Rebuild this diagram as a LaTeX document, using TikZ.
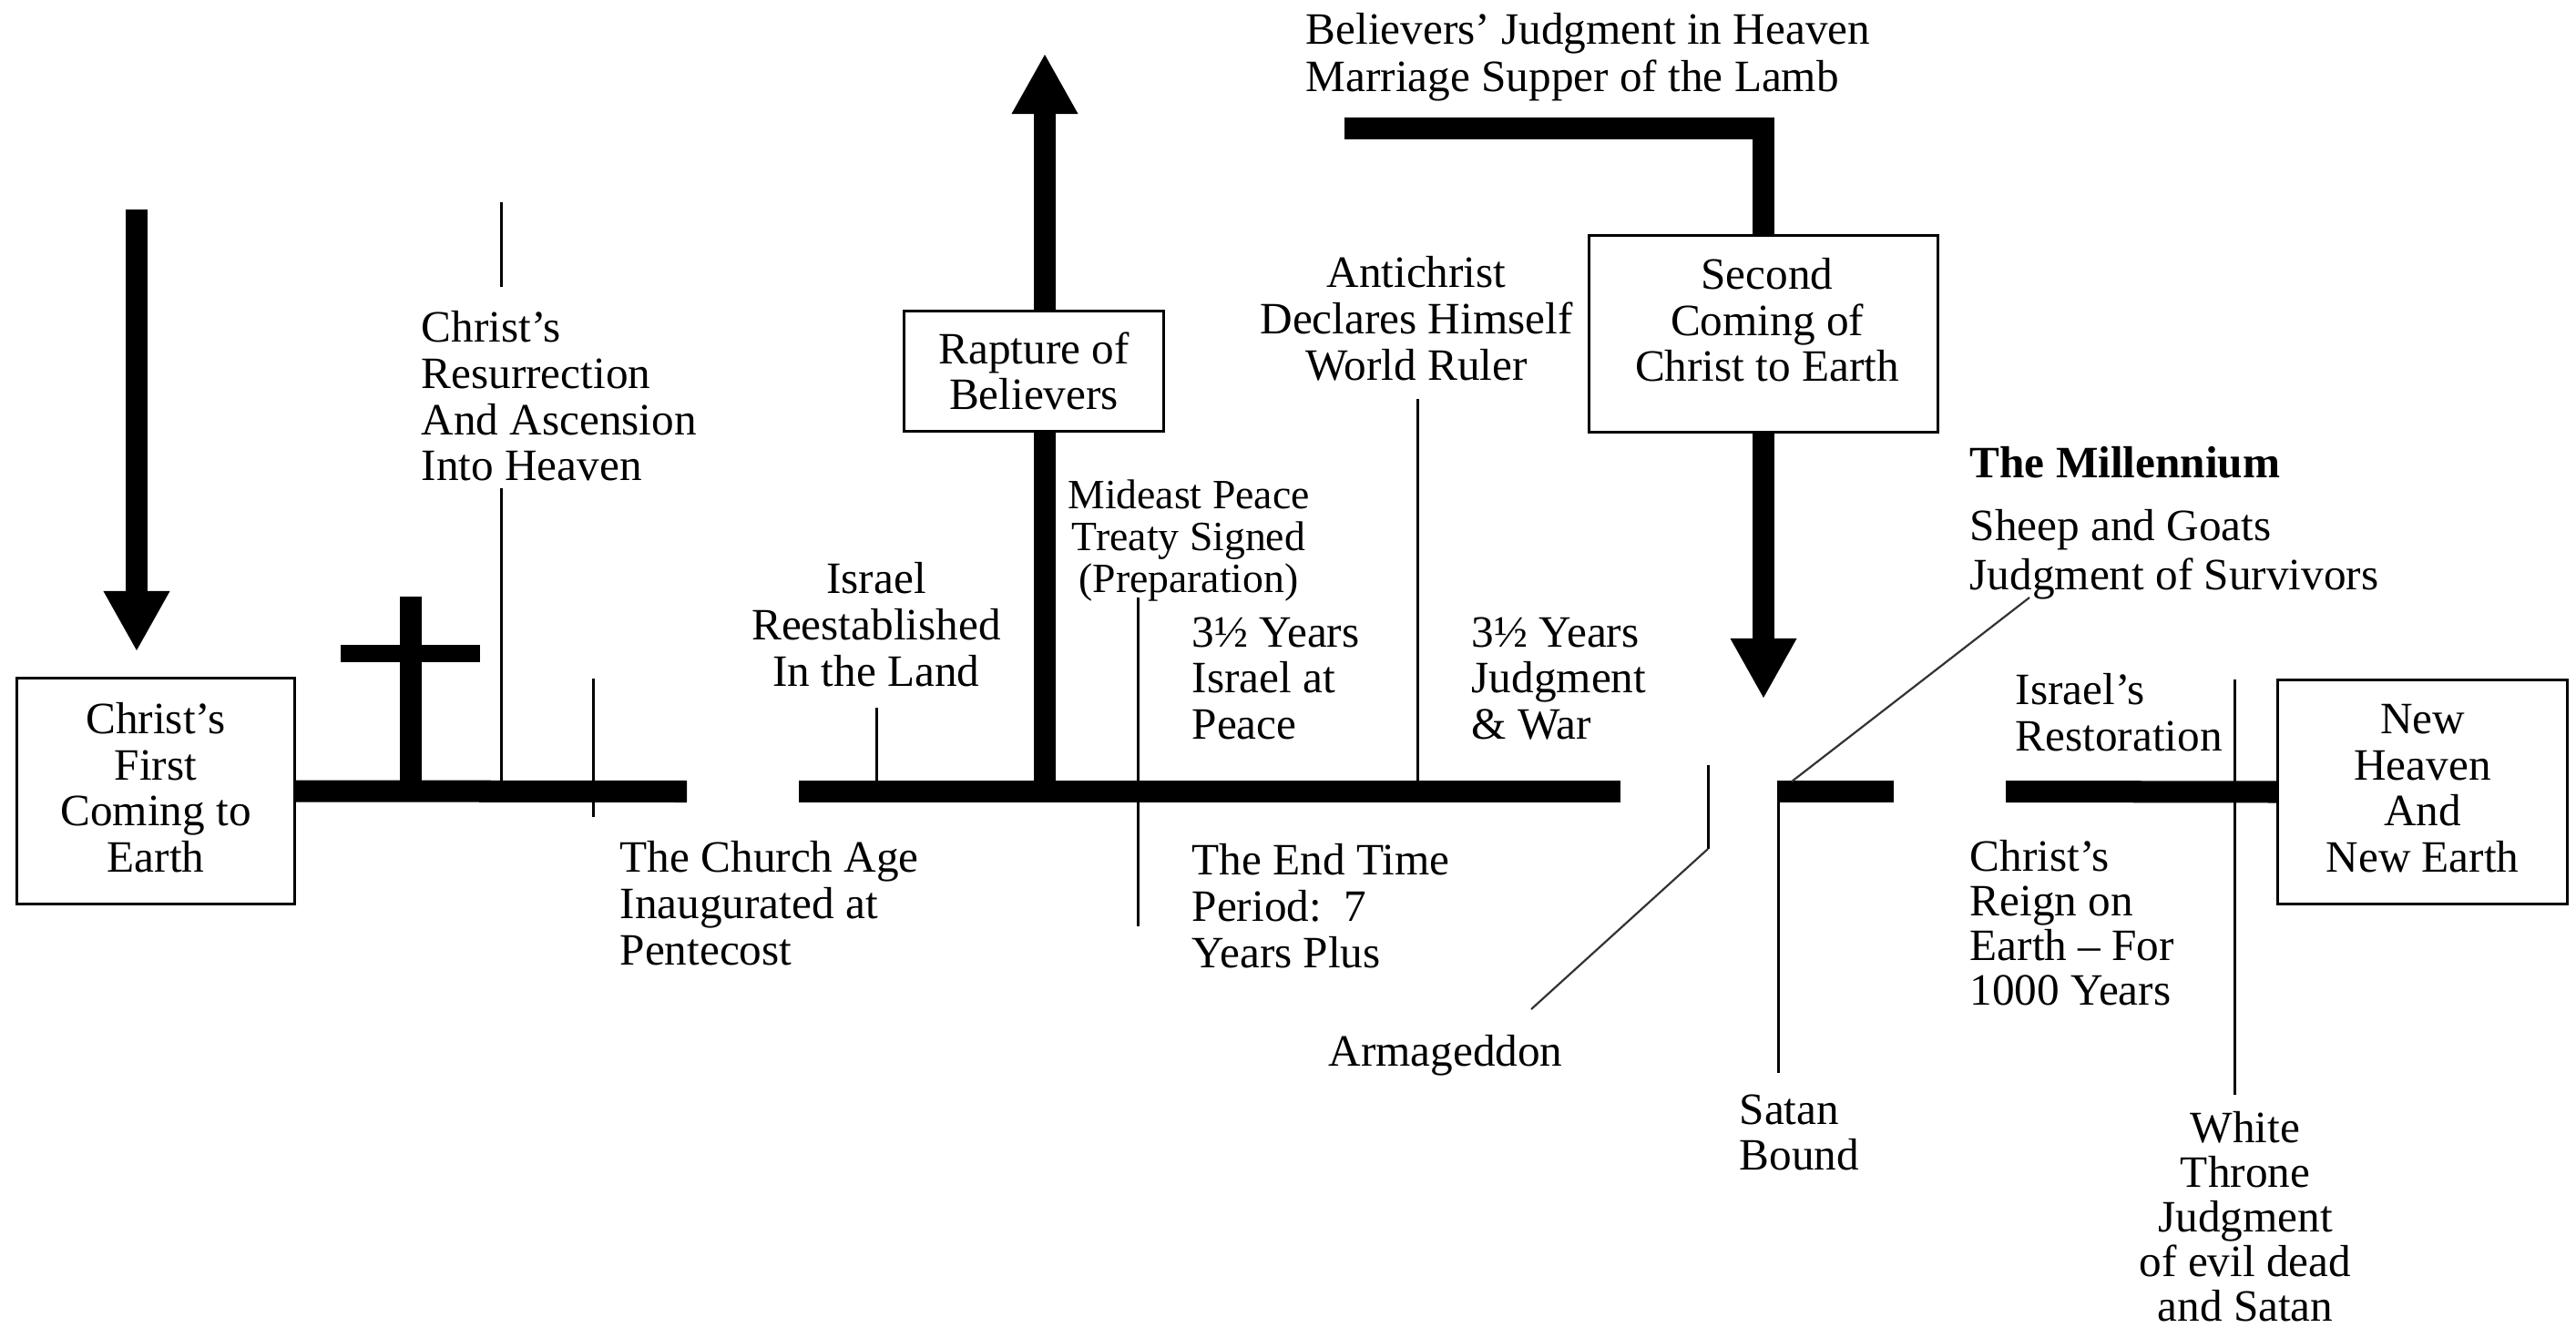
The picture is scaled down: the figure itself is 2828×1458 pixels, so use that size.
\documentclass[tikz,border=0pt]{standalone}
\usepackage{fontspec}
\setmainfont{Liberation Serif}
\usepackage{tikz}
\usetikzlibrary{arrows.meta}
\usetikzlibrary{calc}

\begin{document}
\begin{tikzpicture}[x=0.01cm,y=-0.01cm,
                 every node/.style={font=\fontsize{14}{14.4}\selectfont,inner sep=0pt},
                 bar/.style={line width=0.24cm},
                 bigarrow/.style={line width=0.24cm,-{Triangle[width=0.73cm,length=0.65cm,line width=0pt]}},
                 thin/.style={line width=0.03cm},
                 leader/.style={line width=0.022cm,black!80},
                 box/.style={draw,line width=0.03cm,fill=white,align=center}]
                 \useasboundingbox (0,0) rectangle (2828,1458);
                 \node[box,minimum width=3.04cm,minimum height=2.47cm] (first) at (171,868.5) {};
                 \node[align=center] (firsttxt) at ([yshift=0.04cm]first.center) {Christ’s\\First\\Coming to\\Earth};
                 \node[box,minimum width=3.17cm,minimum height=2.45cm] (newheaven) at (2659.5,869.5) {};
                 \node[align=center] (newtxt) at ([yshift=0.04cm]newheaven.center) {New\\Heaven\\And\\New Earth};
                 \coordinate (firsttop) at (150,230);
                 \coordinate (firsttip) at (150,714);
                 \coordinate (s1) at (754,869);
                 \coordinate (s2a) at (877,869);
                 \coordinate (s2b) at (1779,869);
                 \coordinate (s3a) at (1951,869);
                 \coordinate (s3b) at (2079,869);
                 \coordinate (s4) at (2202,869);
                 \coordinate (crossfoot) at (451,869);
                 \coordinate (crosstop) at (451,655);
                 \coordinate (crossl) at (374,717.5);
                 \coordinate (crossr) at (527,717.5);
                 \coordinate (raptbase) at (1147,869);
                 \coordinate (rapttip) at (1147,60);
                 \coordinate (supper) at (1476,141);
                 \draw[bigarrow] (firsttop) -- (firsttip);
                 \draw[bar] (first.east) -- (s1);
                 \draw[bar] (s2a) -- (s2b);
                 \draw[bar] (s3a) -- (s3b);
                 \draw[bar] (s4) -- (newheaven.west);
                 \draw[bar] (crossfoot) -- (crosstop);
                 \draw[line width=0.19cm] (crossl) -- (crossr);
                 \draw[bigarrow] (raptbase) -- (rapttip);
                 \node[box,minimum width=2.84cm,minimum height=1.31cm] (rapture) at (1135,407.5) {Rapture of\\Believers};
                 \node[box,minimum width=3.82cm,minimum height=2.15cm] (second) at (1936,366.5) {};
                 \node[align=center] (secondtxt) at ([xshift=0.04cm,yshift=0.15cm]second.center) {Second\\Coming of\\Christ to Earth};
                 \coordinate (secondtip) at (1936,766);
                 \draw[bar] (supper) -| (second.north);
                 \draw[bigarrow] (second.south) -- (secondtip);
                 \coordinate (resA) at (550,222);
                 \coordinate (resB) at (550,315);
                 \coordinate (resC) at (550,536);
                 \coordinate (resD) at (550,869);
                 \draw[thin] (resA) -- (resB) (resC) -- (resD);
                 \coordinate (churchA) at (651,745);
                 \coordinate (churchB) at (651,897);
                 \draw[thin] (churchA) -- (churchB);
                 \coordinate (israelA) at (962,777);
                 \coordinate (israelB) at (962,869);
                 \draw[thin] (israelA) -- (israelB);
                 \coordinate (treatyA) at (1249,656);
                 \coordinate (treatyB) at (1249,1017);
                 \draw[thin] (treatyA) -- (treatyB);
                 \coordinate (antiA) at (1556,438);
                 \coordinate (antiB) at (1556,869);
                 \draw[thin] (antiA) -- (antiB);
                 \coordinate (armA) at (1875,840);
                 \coordinate (armB) at (1875,932);
                 \coordinate (armC) at (1681,1108);
                 \draw[thin] (armA) -- (armB);
                 \draw[leader] (armB) -- (armC);
                 \coordinate (satanA) at (1952,858);
                 \coordinate (satanB) at (1952,1178);
                 \draw[thin] (satanA) -- (satanB);
                 \coordinate (sheepA) at (1967,858);
                 \coordinate (sheepB) at (2228,656);
                 \draw[leader] (sheepA) -- (sheepB);
                 \coordinate (throneA) at (2453,746);
                 \coordinate (throneB) at (2453,1202);
                 \draw[thin] (throneA) -- (throneB);
                 \node[anchor=north west,align=left,font=\fontsize{14}{14.8}\selectfont] (believers) at (1433,14) {Believers’ Judgment in Heaven\\Marriage Supper of the Lamb};
                 \node[anchor=north west,align=left] (resur) at (462,341) {Christ’s\\Resurrection\\And Ascension\\Into Heaven};
                 \node[anchor=north west,align=left] (church) at (680,923) {The Church Age\\Inaugurated at\\Pentecost};
                 \node[anchor=north,align=center] (israel) at (962,617) {Israel\\Reestablished\\In the Land};
                 \node[anchor=north,align=center,font=\fontsize{13}{13.1}\selectfont] (treaty) at (1305,526) {Mideast Peace\\Treaty Signed\\(Preparation)};
                 \node[anchor=north west,align=left] (peace) at (1308,677) {3½ Years\\Israel at\\Peace};
                 \node[anchor=north west,align=left] (war) at (1615,677) {3½ Years\\Judgment\\\& War};
                 \node[anchor=north,align=center] (antichrist) at (1555,281) {Antichrist\\Declares Himself\\World Ruler};
                 \node[anchor=north west,align=left] (endtime) at (1308,926) {The End Time\\Period:\ \ 7\\Years Plus};
                 \node[anchor=north west] (millennium) at (2162,490) {\textbf{The Millennium}};
                 \node[anchor=north west,align=left,font=\fontsize{14}{15.3}\selectfont] (sheep) at (2162,559) {Sheep and Goats\\Judgment of Survivors};
                 \node[anchor=north west,align=left] (restoration) at (2212,739) {Israel’s\\Restoration};
                 \node[anchor=north west,align=left,font=\fontsize{14}{13.9}\selectfont] (reign) at (2162,922) {Christ’s\\Reign on\\Earth – For\\1000 Years};
                 \node[anchor=north] (armageddon) at (1587,1136) {Armageddon};
                 \node[anchor=north west,align=left] (satan) at (1909,1201) {Satan\\Bound};
                 \node[anchor=north,align=center,font=\fontsize{14}{13.9}\selectfont] (throne) at (2465,1220) {White\\Throne\\Judgment\\of evil dead\\and Satan};
            \end{tikzpicture}
\end{document}
